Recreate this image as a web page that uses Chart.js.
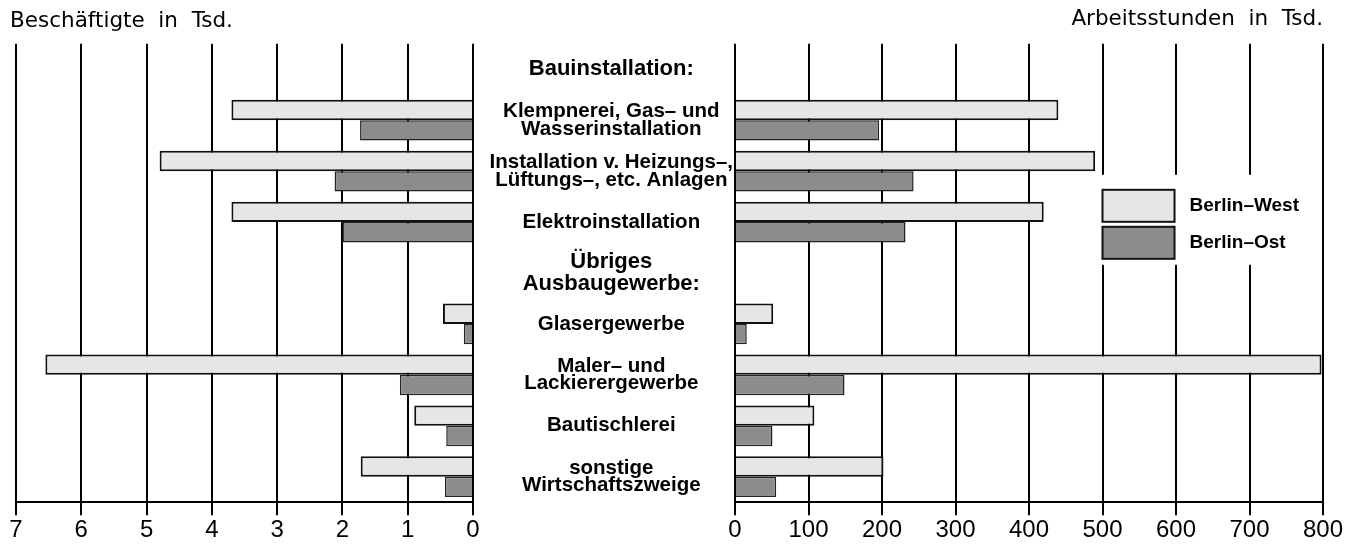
<!DOCTYPE html>
<html lang="de">
<head>
<meta charset="utf-8">
<title>Beschäftigte und Arbeitsstunden – Berlin-West / Berlin-Ost</title>
<style>
  body { margin: 0; background: #fff; width: 1359px; height: 546px; overflow: hidden; position: relative; }
  .panel { position: absolute; top: 0; height: 546px; }
  #links { left: 0; width: 490px; }
  #rechts { left: 480px; width: 879px; }
</style>
</head>
<body>
<div class="panel" id="links"><canvas id="chartLinks"></canvas></div>
<div class="panel" id="rechts"><canvas id="chartRechts"></canvas></div>

<script src="https://cdn.jsdelivr.net/npm/chart.js"></script>
<script>
  // Kategorien (Überschriften haben keine Balken)
  const categories = [
    'Bauinstallation:',
    ['Klempnerei, Gas– und', 'Wasserinstallation'],
    ['Installation v. Heizungs–,', 'Lüftungs–, etc. Anlagen'],
    'Elektroinstallation',
    ['Übriges', 'Ausbaugewerbe:'],
    'Glasergewerbe',
    ['Maler– und', 'Lackierergewerbe'],
    'Bautischlerei',
    ['sonstige', 'Wirtschaftszweige']
  ];
  const headings = [0, 4];
  const seriesNames = ['Berlin–West', 'Berlin–Ost'];

  // Beschäftigte in Tsd.
  const beschWest = [null, 3.7, 4.8, 3.7, null, 0.46, 6.55, 0.9, 1.72];
  const beschOst  = [null, 1.73, 2.12, 2.0, null, 0.14, 1.12, 0.41, 0.43];

  // Arbeitsstunden in Tsd.
  const stundenWest = [null, 440, 490, 420, null, 52, 798, 108, 202];
  const stundenOst  = [null, 196, 243, 232, null, 16, 149, 51, 56];

  // Achsen
  const beschTicks = [0, 1, 2, 3, 4, 5, 6, 7];
  const stundenTicks = [0, 100, 200, 300, 400, 500, 600, 700, 800];

  const farbeWest = '#e6e6e6';
  const farbeOst = '#8c8c8c';
  const schrift = "'Liberation Sans', Arial, sans-serif";

  Chart.defaults.font.family = schrift;
  Chart.defaults.color = '#000';
  Chart.defaults.animation = false;

  function datensaetze(west, ost) {
    return [
      { label: seriesNames[0], data: west, backgroundColor: farbeWest, borderColor: '#111', borderWidth: 2 },
      { label: seriesNames[1], data: ost, backgroundColor: farbeOst, borderColor: '#222', borderWidth: 1.5 }
    ];
  }

  function xAchse(ticks, reverse) {
    return {
      type: 'linear',
      min: ticks[0],
      max: ticks[ticks.length - 1],
      reverse: reverse,
      grid: { color: '#000', lineWidth: 2, tickLength: 13 },
      border: { display: true, color: '#000', width: 2 },
      afterBuildTicks: (scale) => { scale.ticks = ticks.map(v => ({ value: v })); },
      ticks: { font: { size: 24 }, padding: 1, color: '#000' }
    };
  }

  function titel(text, align, oben) {
    return {
      display: true, text: text, align: align, color: '#000',
      font: { family: "'DejaVu Sans', sans-serif", size: 21.5, weight: 'normal' },
      padding: { top: oben, bottom: 18 - oben }
    };
  }

  // Legende innerhalb der Zeichenfläche, rechts
  const legendePlugin = {
    id: 'legende',
    afterDraw(chart) {
      const { ctx, chartArea } = chart;
      const x = chart.scales.x;
      const x0 = x.getPixelForValue(500);
      const w = x.getPixelForValue(598) - x0;
      const top = chartArea.top + 146;
      ctx.save();
      ctx.fillStyle = '#fff';
      ctx.fillRect(x0 - 6, chartArea.top + 131, x.getPixelForValue(780) - x0 + 6, 90);
      chart.data.datasets.forEach((ds, i) => {
        const y = top + i * 37;
        ctx.fillStyle = ds.backgroundColor;
        ctx.fillRect(x0, y, w, 32);
        ctx.lineWidth = 2;
        ctx.strokeStyle = '#111';
        ctx.strokeRect(x0, y, w, 32);
        ctx.fillStyle = '#000';
        ctx.font = 'bold 19px ' + schrift;
        ctx.textBaseline = 'middle';
        ctx.fillText(ds.label, x0 + w + 15, y + 16);
      });
      ctx.restore();
    }
  };

  const gemeinsam = {
    indexAxis: 'y',
    responsive: true,
    maintainAspectRatio: false,
    datasets: { bar: { barPercentage: 1.0, categoryPercentage: 0.8 } },
    plugins: { legend: { display: false }, tooltip: { enabled: false } }
  };

  // Linke Seite: Beschäftigte
  new Chart(document.getElementById('chartLinks'), {
    type: 'bar',
    data: { labels: categories, datasets: datensaetze(beschWest, beschOst) },
    options: {
      ...gemeinsam,
      layout: { padding: { left: 10, right: 17, top: 0, bottom: 0 } },
      plugins: { ...gemeinsam.plugins, title: titel('Beschäftigte  in  Tsd.', 'start', 9) },
      scales: {
        x: xAchse(beschTicks, true),
        y: {
          ticks: { display: false },
          grid: { display: false },
          border: { display: false },
          afterFit: (scale) => { scale.width = 6; }
        }
      }
    }
  });

  // Rechte Seite: Arbeitsstunden, mit Kategorienamen in der Mitte
  new Chart(document.getElementById('chartRechts'), {
    type: 'bar',
    data: { labels: categories, datasets: datensaetze(stundenWest, stundenOst) },
    options: {
      ...gemeinsam,
      layout: { padding: { left: 0, right: 36, top: 0, bottom: 0 } },
      plugins: { ...gemeinsam.plugins, title: titel('Arbeitsstunden  in  Tsd.', 'end', 7) },
      scales: {
        x: xAchse(stundenTicks, false),
        y: {
          grid: { display: false, drawTicks: false },
          border: { display: false },
          afterFit: (scale) => { scale.width = 255; },
          ticks: {
            autoSkip: false,
            crossAlign: 'center',
            padding: 2,
            color: '#000',
            font: (c) => headings.includes(c.index)
              ? { size: 22, weight: 'bold', lineHeight: 1.0 }
              : { size: 20.5, weight: 'bold', lineHeight: 0.86 }
          }
        }
      }
    },
    plugins: [legendePlugin]
  });
</script>
</body>
</html>
